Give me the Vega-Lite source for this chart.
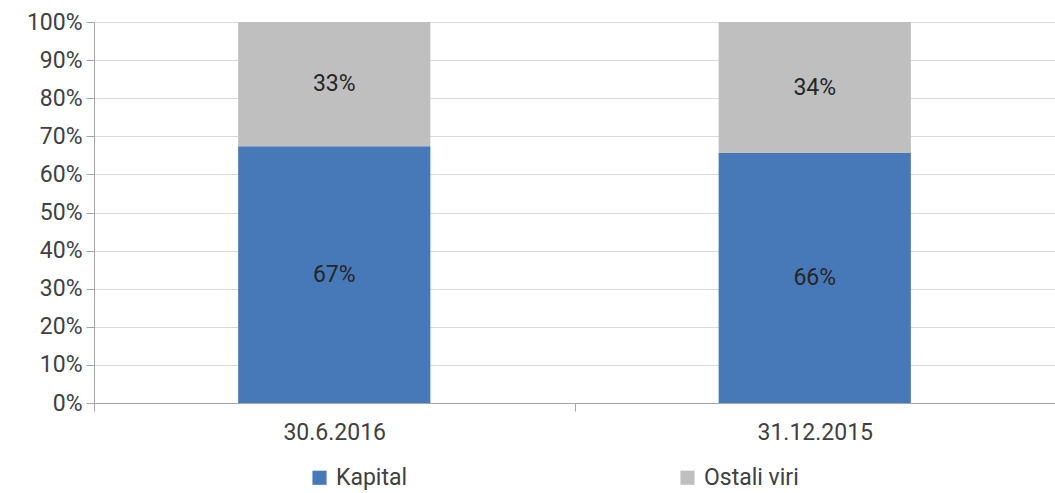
{
  "$schema": "https://vega.github.io/schema/vega-lite/v6.json",
  "width": 961,
  "height": 381,
  "autosize": "none",
  "padding": {"left": 94, "top": 22, "right": 0, "bottom": 90},
  "background": "white",
  "config": {
    "font": "Roboto",
    "view": {"stroke": null},
    "axisY": {
      "title": null,
      "format": ".0%",
      "values": [0, 0.1, 0.2, 0.3, 0.4, 0.5, 0.6, 0.7, 0.8, 0.9, 1],
      "labelFontSize": 23,
      "labelColor": "#404040",
      "labelPadding": 4,
      "labelOverlap": false,
      "tickSize": 8,
      "tickColor": "#a6a6a6",
      "domainColor": "#a6a6a6",
      "gridColor": "#d9d9d9",
      "gridWidth": 1
    }
  },
  "data": {
    "values": [
      {"datum": "30.6.2016", "vir": "Kapital", "delez": 0.674},
      {"datum": "30.6.2016", "vir": "Ostali viri", "delez": 0.326},
      {"datum": "31.12.2015", "vir": "Kapital", "delez": 0.656},
      {"datum": "31.12.2015", "vir": "Ostali viri", "delez": 0.344}
    ]
  },
  "transform": [
    {"stack": "delez", "groupby": ["datum"], "sort": [{"field": "vir", "order": "ascending"}], "as": ["y0", "y1"]},
    {"calculate": "(datum.y0 + datum.y1) / 2", "as": "ymid"}
  ],
  "encoding": {
    "x": {
      "field": "datum",
      "type": "nominal",
      "sort": ["30.6.2016", "31.12.2015"],
      "scale": {"paddingInner": 0, "paddingOuter": 0},
      "axis": {
        "title": null,
        "labelAngle": 0,
        "labelFontSize": 23,
        "labelColor": "#404040",
        "labelPadding": 10,
        "labelOverlap": false,
        "tickBand": "extent",
        "tickSize": 8,
        "tickColor": "#a6a6a6",
        "domainColor": "#a6a6a6",
        "grid": false
      }
    }
  },
  "layer": [
    {
      "mark": {"type": "bar", "width": {"band": 0.4}},
      "encoding": {
        "y": {
          "field": "y0",
          "type": "quantitative",
          "scale": {"domain": [0, 1]},
          "axis": {"values": [0, 0.1, 0.2, 0.3, 0.4, 0.5, 0.6, 0.7, 0.8, 0.9, 1], "format": ".0%", "title": null}
        },
        "y2": {"field": "y1"},
        "color": {
          "field": "vir",
          "type": "nominal",
          "scale": {"domain": ["Kapital", "Ostali viri"], "range": ["#4779b9", "#bfbfbf"]},
          "legend": {
            "title": null,
            "orient": "none",
            "legendX": 214,
            "legendY": 444,
            "direction": "horizontal",
            "columns": 2,
            "columnPadding": 268,
            "symbolType": "square",
            "symbolSize": 200,
            "symbolStrokeWidth": 0,
            "symbolOpacity": 1,
            "labelFontSize": 23,
            "labelColor": "#404040",
            "labelOffset": 5
          }
        }
      }
    },
    {
      "mark": {"type": "text", "fontSize": 23, "color": "#262626"},
      "encoding": {
        "y": {
          "field": "ymid",
          "type": "quantitative",
          "axis": {"values": [0, 0.1, 0.2, 0.3, 0.4, 0.5, 0.6, 0.7, 0.8, 0.9, 1], "format": ".0%", "title": null}
        },
        "text": {"field": "delez", "type": "quantitative", "format": ".0%"}
      }
    }
  ]
}
